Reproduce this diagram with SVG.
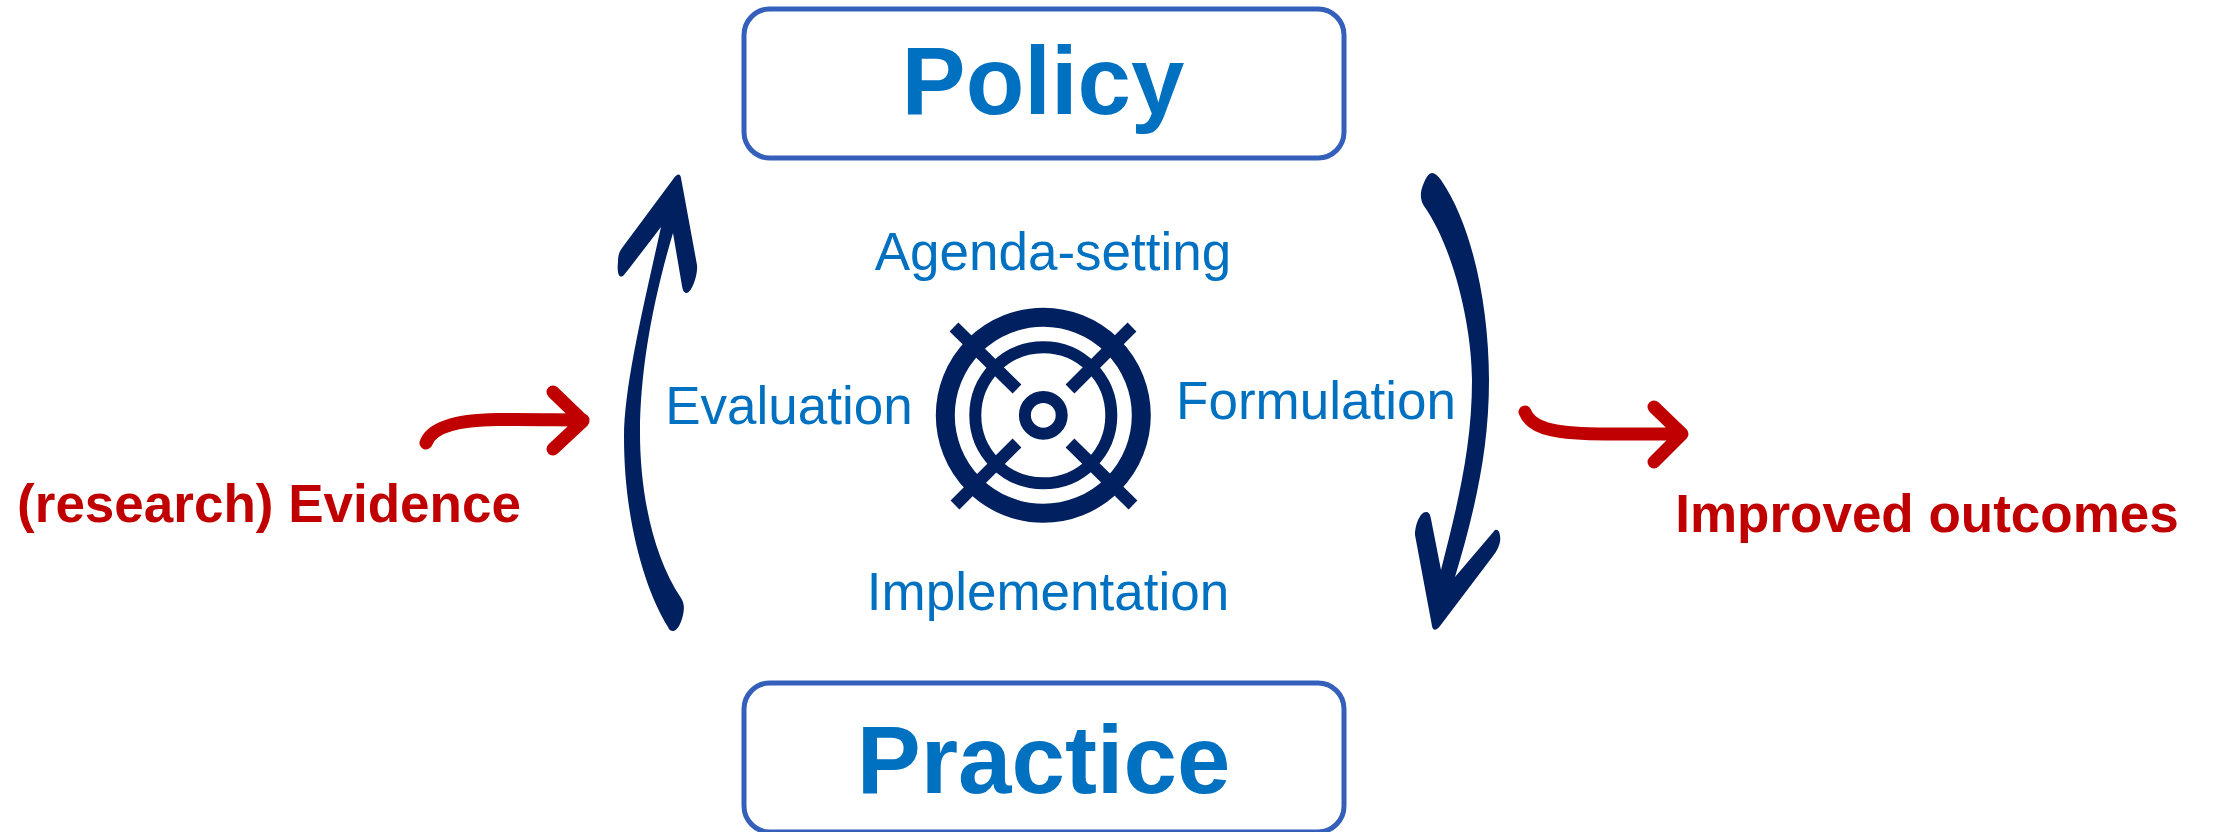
<svg xmlns="http://www.w3.org/2000/svg" width="2213" height="832" viewBox="0 0 2213 832">
<style>
text{font-family:"Liberation Sans",Arial,sans-serif}
.box{fill:#fff;stroke:#3460bb;stroke-width:5}
.title{font-size:96px;font-weight:700;fill:#0070c0;text-anchor:middle}
.stage{font-size:53px;fill:#0070c0;text-anchor:middle}
.out{font-size:53px;font-weight:700;fill:#c00000;text-anchor:middle}
.navy{fill:#002060}
.ring{fill:none;stroke:#002060}
.x{stroke:#002060;stroke-width:12.500;fill:none}
.red{fill:none;stroke:#c00000;stroke-width:13;stroke-linecap:round;stroke-linejoin:round}
</style>
<rect width="2213" height="832" fill="#fff"/>
<g id="connectors">
<path class="navy" d="M673 631C671 631 669 630 668 627C645 590 624 520 624 437C624 385 645 300 661 227L628 270L623 276C618 279 617 270 618 262C618 256 619 252 622 248L674 178C677 174 680 173 681 178L697 265C698 275 692 292 687 293C684 293 683 291 682 286L673 233C653 300 640 370 640 433C640 490 652 555 681 598C685 604 684 610 683 615C681 624 677 631 673 631Z"/>
<path class="navy" d="M1432 173C1435 173 1438 176 1441 180C1472 225 1489 305 1489 380C1489 450 1475 510 1455 577L1495 530C1499 528 1501 535 1500 542C1499 546 1497 551 1493 556L1440 626C1436 631 1433 631 1432 626L1415 535C1415 525 1420 512 1426 512C1429 512 1430 514 1431 519L1441 570C1456 510 1472 450 1472 380C1472 330 1455 250 1424 206C1420 200 1420 192 1423 185C1426 177 1429 173 1432 173Z"/>
<g class="red">
<path d="M1525 412C1532 430 1560 434 1607 434C1640 434 1660 434 1681 434M1654 407L1682 434L1654 462"/>
<path d="M426 443C432 426 460 420 497 419.500C530 419 560 420 583 420M553 392L583 421L553 449"/>
</g>
</g>
<g id="policy"><rect class="box" x="744" y="9" width="600" height="149" rx="26"/><text class="title" x="1043" y="114">Policy</text></g>
<g id="practice"><rect class="box" x="744" y="683" width="600" height="149" rx="26"/><text class="title" x="1043.500" y="793">Practice</text></g>
<g id="stages">
<text class="stage" x="1053" y="270">Agenda-setting</text>
<text class="stage" x="789" y="424">Evaluation</text>
<text class="stage" x="1316" y="419">Formulation</text>
<text class="stage" x="1048" y="610">Implementation</text>
</g>
<g id="target">
<circle class="ring" cx="1043.300" cy="415.300" r="98" stroke-width="19"/>
<circle class="ring" cx="1043.300" cy="415.300" r="68" stroke-width="12"/>
<circle class="ring" cx="1043.300" cy="415.300" r="18.400" stroke-width="12"/>
<path class="x" d="M954 327L1017 389M1132 327L1070 389M1017 443L955 505M1070 443L1133 505"/>
</g>
<g id="evidence"><text class="out" x="269" y="522">(research) Evidence</text></g>
<g id="outcomes"><text class="out" x="1927" y="532">Improved outcomes</text></g>
</svg>
